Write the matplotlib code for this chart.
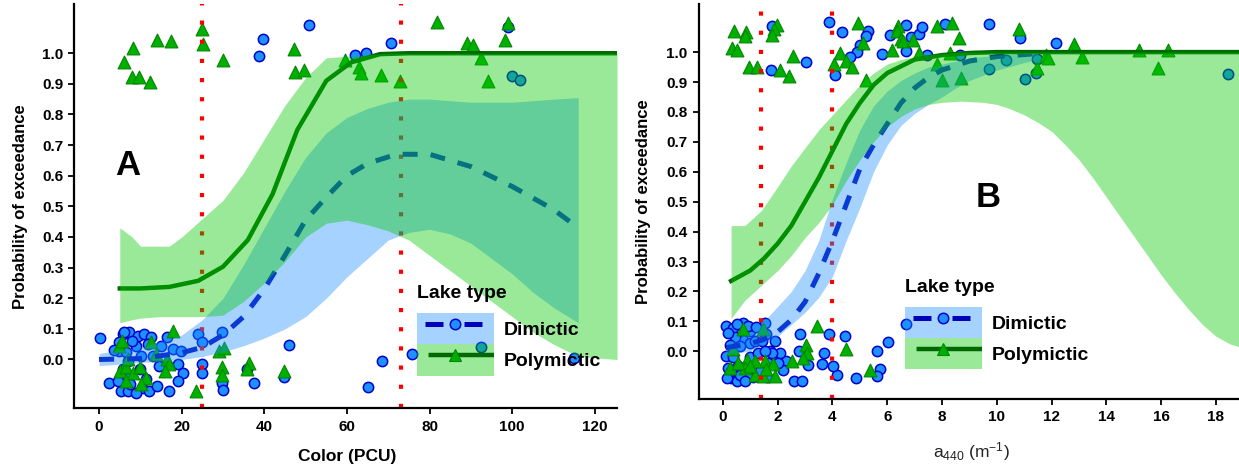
import matplotlib
matplotlib.use("Agg")
import matplotlib.pyplot as plt
from matplotlib.patches import Patch
from matplotlib.lines import Line2D

plt.rcParams["font.family"] = ["Liberation Sans", "DejaVu Sans"]
plt.rcParams["mathtext.fontset"] = "custom"
plt.rcParams["mathtext.rm"] = "Liberation Sans"
plt.rcParams["mathtext.default"] = "regular"

# ---------------- Panel A : Color (PCU) ----------------
a_thresholds = [25, 73]

a_dim_x = [39.8, 38.6, 50.9, 99.0, 70.6, 61.9, 64.5, 100.0, 102.0,
           0.3, 2.5, 5.7, 7.3, 9.3, 10.9, 12.5, 4.9, 4.9, 6.5, 6.9, 5.7, 6.9, 5.3, 6.9,
           10.5, 12.1, 14.1, 16.9, 15.1, 18.0, 19.9, 19.0, 20.2, 19.0, 16.5, 23.9, 25.0,
           25.0, 25.0, 29.8, 29.8, 30.0, 37.4, 35.8, 44.7, 45.9, 10.1, 8.9, 11.3, 8.9,
           65.0, 68.6, 75.8, 92.4, 115.0, 6.0, 8.0, 13.0, 7.5, 9.8, 11.8, 14.5, 4.5, 3.5]
a_dim_y = [1.048, 0.990, 1.093, 1.087, 1.032, 0.993, 1.002, 0.925, 0.914,
           0.069, -0.076, 0.083, 0.091, 0.078, 0.083, 0.072, 0.056, 0.029, 0.023, -0.004,
           -0.032, -0.059, -0.103, -0.103, -0.092, -0.103, -0.087, -0.103, 0.045, 0.034,
           0.029, -0.015, -0.043, -0.070, 0.072, 0.083, 0.058, -0.015, -0.045, 0.089,
           -0.076, -0.098, -0.076, -0.032, -0.056, 0.048, 0.012, 0.045, -0.065, -0.109,
           -0.089, -0.004, 0.018, 0.041, 0.005, 0.090, 0.060, 0.010, -0.080, -0.030,
           0.050, -0.020, -0.070, 0.030]

a_poly_x = [8.1, 6.1, 8.0, 9.7, 12.4, 14.1, 17.5, 25.0, 25.1, 29.9, 47.2, 47.5, 49.7,
            81.8, 99.1, 98.3, 89.1, 90.6, 92.5, 94.1, 59.5, 63.0, 63.4, 68.2, 72.8,
            17.8, 12.5, 13.7, 16.5, 17.0, 15.9, 4.9, 5.1, 6.5, 8.1, 10.0, 11.3, 10.1,
            6.5, 23.4, 29.8, 29.8, 29.0, 30.2, 36.2, 35.7, 44.7, 5.5, 7.0]
a_poly_y = [1.017, 0.970, 0.924, 0.922, 0.906, 1.043, 1.039, 1.079, 1.030, 0.977,
            1.013, 0.938, 0.944, 1.101, 1.098, 1.043, 1.032, 1.026, 0.983, 0.908,
            0.977, 0.955, 0.935, 0.928, 0.908,
            0.094, 0.056, 0.017, 0.001, -0.015, -0.037, 0.045, -0.037, -0.026, -0.043,
            -0.026, -0.059, -0.081, -0.070, -0.103, -0.026, -0.052, 0.029, 0.039,
            -0.010, -0.032, -0.037, 0.060, 0.000]

a_dim_fit_x = [0, 10, 20, 25, 30, 35, 40, 45, 50, 55, 60, 65, 72, 80, 90, 100, 110, 116]
a_dim_fit_y = [0.0, 0.003, 0.022, 0.04, 0.08, 0.14, 0.23, 0.34, 0.455, 0.53, 0.60,
               0.64, 0.67, 0.67, 0.63, 0.565, 0.49, 0.43]

a_dim_band_x = [0, 5, 10, 15, 20, 25, 30, 35, 40, 45, 50, 55, 60, 65, 70, 75, 80, 85,
                90, 95, 100, 105, 110, 116]
a_dim_lo = [-0.02, -0.015, -0.01, -0.005, 0.0, 0.01, 0.025, 0.045, 0.07, 0.1, 0.14,
            0.2, 0.27, 0.33, 0.39, 0.415, 0.425, 0.41, 0.38, 0.33, 0.28, 0.22, 0.17, 0.12]
a_dim_hi = [0.02, 0.03, 0.04, 0.06, 0.08, 0.13, 0.2, 0.31, 0.43, 0.55, 0.66, 0.74,
            0.79, 0.82, 0.84, 0.85, 0.85, 0.845, 0.84, 0.84, 0.84, 0.845, 0.85, 0.855]

a_poly_fit_x = [5, 10, 17, 24, 30, 36, 42, 48, 55, 61, 68, 75, 125.4]
a_poly_fit_y = [0.232, 0.232, 0.237, 0.257, 0.303, 0.39, 0.54, 0.75, 0.91, 0.97,
                0.997, 1.0, 1.0]

a_poly_band_x = [5, 8, 10, 15, 17, 20, 25, 30, 35, 40, 45, 50, 55, 60, 65, 70, 75, 80,
                 85, 90, 95, 100, 105, 110, 116, 125.4]
a_poly_lo = [0.12, 0.13, 0.135, 0.14, 0.14, 0.14, 0.14, 0.145, 0.19, 0.25, 0.32, 0.40,
             0.445, 0.455, 0.44, 0.42, 0.39, 0.34, 0.29, 0.24, 0.19, 0.14, 0.09, 0.05,
             0.01, 0.0]
a_poly_hi = [0.43, 0.40, 0.37, 0.37, 0.37, 0.40, 0.46, 0.52, 0.61, 0.72, 0.83, 0.92,
             0.985, 0.99, 0.995, 1.0, 1.0, 1.0, 1.0, 1.0, 1.0, 1.0, 1.0, 1.0, 1.0, 1.0]

# ---------------- Panel B : a440 ----------------
b_thresholds = [1.4, 4.0]

b_dim_x = [1.78, 1.74, 3.03, 3.88, 4.33, 4.09, 5.30, 5.21, 5.00, 4.88, 4.64, 5.81, 6.09,
           6.70, 6.68, 6.85, 7.16, 7.27, 7.46, 8.10, 9.72, 10.84, 12.15, 10.35, 9.72,
           11.02, 11.42, 11.47, 18.44, 8.65,
           6.70, 6.01, 5.63, 5.73, 5.61, 4.86, 4.17, 4.03, 4.45, 3.88, 3.70, 3.60, 3.11,
           2.81, 2.79, 2.59, 2.87, 2.30, 2.20, 2.08, 1.90, 1.53, 0.13, 0.38, 0.74, 0.99,
           0.13, 0.19, 0.30, 0.50, 0.56, 0.74, 0.99, 1.17, 1.41, 1.72, 1.80, 2.02, 1.65,
           1.35, 1.11, 0.87, 0.62, 0.38, 0.62, 0.44, 0.26, 0.99, 1.29, 1.53, 1.59, 0.20,
           0.50, 0.90, 1.20, 0.30, 0.80, 1.60, 0.15]
b_dim_y = [1.086, 0.941, 0.968, 1.099, 1.068, 0.922, 1.071, 1.055, 1.025, 0.999, 0.984,
           0.994, 1.057, 1.089, 1.002, 1.052, 1.061, 1.084, 0.991, 1.095, 1.094, 1.047,
           1.030, 0.975, 0.945, 0.910, 0.930, 0.978, 0.927, 0.991,
           0.091, 0.030, 0.002, -0.059, -0.083, -0.090, -0.081, -0.050, 0.052, 0.056,
           -0.005, -0.041, -0.046, 0.058, 0.002, -0.098, -0.098, -0.033, -0.063, -0.005,
           0.033, 0.093, 0.084, 0.077, 0.093, 0.067, -0.017, -0.056, -0.090, -0.100,
           -0.050, 0.039, 0.028, 0.033, 0.033, 0.000, -0.005, -0.039, -0.039, -0.067,
           -0.086, -0.080, -0.080, -0.020, 0.017, 0.048, 0.020, -0.020, -0.005, 0.000,
           0.058, 0.060, 0.090, 0.085, 0.080, -0.065, -0.100, -0.085, -0.090]

b_poly_x = [0.41, 0.86, 0.80, 0.32, 0.50, 0.96, 1.23, 2.08, 2.42, 2.57, 1.96, 1.86, 1.81,
            4.94, 4.27, 4.05, 4.49, 4.73, 5.10, 5.22, 6.18, 6.40, 6.34, 6.50, 6.58, 6.95,
            7.16, 7.80, 8.38, 8.62, 7.82, 8.00, 8.69, 8.28, 10.82, 12.82, 11.79, 11.85,
            13.11, 15.18, 16.25, 15.89, 11.45,
            3.44, 4.51, 3.05, 3.08, 2.93, 2.54, 5.36, 1.47, 0.72, 1.53, 1.84, 1.17, 0.87,
            0.80, 1.17, 1.47, 1.90, 0.26, 0.38, 0.99, 1.59, 0.56]
b_poly_y = [1.071, 1.066, 1.055, 1.014, 1.006, 0.949, 0.949, 0.939, 0.921, 0.988, 1.092,
            1.077, 1.058, 1.097, 0.997, 0.960, 0.971, 0.949, 1.030, 0.908, 1.006, 1.088,
            1.069, 1.044, 1.036, 1.041, 0.997, 1.086, 1.097, 1.047, 0.961, 0.908, 0.913,
            0.997, 1.078, 1.028, 0.991, 0.980, 0.982, 1.008, 1.008, 0.947, 0.947,
            0.084, 0.006, 0.022, -0.005, -0.022, -0.033, -0.063, 0.073, 0.073, -0.033,
            -0.044, -0.033, -0.028, -0.056, -0.078, -0.083, -0.083, -0.056, 0.006,
            -0.050, -0.060, -0.039]

b_dim_fit_x = [0.1, 1, 1.5, 2, 2.5, 3, 3.5, 4, 4.5, 5, 5.5, 6, 6.5, 7, 7.5, 8, 9, 10, 11.5]
b_dim_fit_y = [0.012, 0.025, 0.04, 0.065, 0.105, 0.165, 0.26, 0.37, 0.49, 0.61, 0.69,
               0.76, 0.83, 0.88, 0.915, 0.94, 0.97, 0.985, 0.995]

b_dim_band_x = [0.1, 0.5, 1, 1.5, 2, 2.5, 3, 3.5, 4, 4.5, 5, 5.5, 6, 6.5, 7, 7.5, 8,
                8.5, 9, 10, 11, 11.5]
b_dim_lo = [-0.01, -0.005, 0.0, 0.03, 0.05, 0.09, 0.13, 0.18, 0.25, 0.37, 0.48, 0.6,
            0.69, 0.755, 0.795, 0.825, 0.85, 0.88, 0.905, 0.94, 0.965, 0.975]
b_dim_hi = [0.03, 0.04, 0.06, 0.1, 0.15, 0.2, 0.27, 0.37, 0.51, 0.63, 0.74, 0.82, 0.87,
            0.905, 0.93, 0.95, 0.96, 0.97, 0.98, 0.99, 0.995, 0.998]

b_poly_fit_x = [0.3, 1, 1.5, 2, 2.5, 3, 3.5, 4, 4.5, 5, 5.5, 6, 7, 8, 9, 10, 18.84]
b_poly_fit_y = [0.235, 0.27, 0.31, 0.36, 0.42, 0.50, 0.58, 0.67, 0.76, 0.83, 0.89,
                0.93, 0.975, 0.99, 0.997, 1.0, 1.0]

b_poly_band_x = [0.3, 0.8, 1.4, 2, 2.5, 3, 3.5, 4, 4.5, 5, 5.5, 6, 6.5, 7, 7.5, 8, 8.7,
                 9.5, 10, 10.5, 11, 11.5, 12, 12.5, 13, 13.5, 14, 14.5, 15, 15.5, 16,
                 16.5, 17, 17.5, 18, 18.5, 18.84]
b_poly_lo = [0.11, 0.17, 0.22, 0.27, 0.32, 0.38, 0.43, 0.49, 0.57, 0.64, 0.70, 0.75,
             0.785, 0.81, 0.825, 0.832, 0.836, 0.832, 0.825, 0.81, 0.79, 0.765, 0.735,
             0.69, 0.64, 0.58, 0.515, 0.45, 0.385, 0.32, 0.255, 0.195, 0.14, 0.09,
             0.05, 0.025, 0.015]
b_poly_hi = [0.42, 0.42, 0.47, 0.55, 0.62, 0.68, 0.74, 0.79, 0.84, 0.89, 0.93, 0.96,
             0.975, 0.985, 0.99, 0.995] + [1.0] * 21

# styles
DIM_FACE, DIM_EDGE = "#1E90FF", "#0000CD"
POLY_FACE, POLY_EDGE = "#00B000", "#008800"
DIM_LINE, POLY_LINE = "#0000B8", "#006A00"
DIM_FILL, POLY_FILL = "#1E90FF", "#00C800"
ALPHA = 0.4

fig = plt.figure(figsize=(12.39, 4.69), dpi=100)
axA = fig.add_axes([0.060, 0.129, 0.438, 0.862])
axB = fig.add_axes([0.564, 0.149, 0.436, 0.842])


def draw_panel(ax, dim_x, dim_y, poly_x, poly_y, thresholds,
               dfx, dfy, dbx, dlo, dhi, pfx, pfy, pbx, plo, phi):
    ax.scatter(dim_x, dim_y, s=55, c=DIM_FACE, edgecolors=DIM_EDGE, linewidths=1.1,
               zorder=1)
    ax.scatter(poly_x, poly_y, s=85, marker="^", c=POLY_FACE, edgecolors=POLY_EDGE,
               linewidths=0.8, zorder=1.1)
    for t in thresholds:
        ax.axvline(t, color="red", lw=3, ls=(0, (1, 3.6)), dash_capstyle="butt",
                   zorder=1.5)
    ax.plot(dfx, dfy, color=DIM_LINE, lw=3.6, ls=(0, (3.0, 2.6)),
            dash_capstyle="butt", zorder=2)
    ax.plot(pfx, pfy, color=POLY_LINE, lw=3.2, zorder=2)
    ax.fill_between(dbx, dlo, dhi, color=DIM_FILL, alpha=ALPHA, lw=0, zorder=3)
    ax.fill_between(pbx, plo, phi, color=POLY_FILL, alpha=ALPHA, lw=0, zorder=3)

    ax.set_ylim(-0.16, 1.16)
    ax.set_yticks([i / 10 for i in range(11)])
    ax.set_yticklabels([f"{i / 10:.1f}" for i in range(11)])
    for side in ["top", "right"]:
        ax.spines[side].set_visible(False)
    for side in ["left", "bottom"]:
        ax.spines[side].set_linewidth(1.6)
    ax.tick_params(direction="out", length=4, width=1.3, pad=4, labelsize=11)
    ax.set_ylabel("Probability of exceedance", fontsize=12, fontweight="bold")

    handles = [
        (Patch(facecolor=DIM_FILL, alpha=ALPHA, lw=0),
         Line2D([], [], color=DIM_LINE, lw=3.6, ls=(13.8, (3.6, 4.2, 3.6, 4.0)),
                dash_capstyle="butt", marker="o", ms=7.5, mfc=DIM_FACE, mec=DIM_EDGE,
                mew=1.1)),
        (Patch(facecolor=POLY_FILL, alpha=ALPHA, lw=0),
         Line2D([], [], color=POLY_LINE, lw=3.2, ls=(18.8, (17.0, 4.4)),
                dash_capstyle="butt", marker="^", ms=9, mfc=POLY_FACE, mec=POLY_EDGE,
                mew=0.8)),
    ]
    return handles


hA = draw_panel(axA, a_dim_x, a_dim_y, a_poly_x, a_poly_y, a_thresholds,
                a_dim_fit_x, a_dim_fit_y, a_dim_band_x, a_dim_lo, a_dim_hi,
                a_poly_fit_x, a_poly_fit_y, a_poly_band_x, a_poly_lo, a_poly_hi)
hB = draw_panel(axB, b_dim_x, b_dim_y, b_poly_x, b_poly_y, b_thresholds,
                b_dim_fit_x, b_dim_fit_y, b_dim_band_x, b_dim_lo, b_dim_hi,
                b_poly_fit_x, b_poly_fit_y, b_poly_band_x, b_poly_lo, b_poly_hi)

axA.set_xlim(-6.0, 125.4)
axA.set_xticks([0, 20, 40, 60, 80, 100, 120])
axA.set_xlabel("Color (PCU)", fontsize=12.5, fontweight="bold")
axA.xaxis.set_label_coords(0.502, -0.1)
axA.yaxis.set_label_coords(-0.085, 0.5)
axA.text(6.8, 0.632, "A", fontsize=25, fontweight="bold", ha="center", va="center")

axB.set_xlim(-0.88, 18.84)
axB.set_xticks(list(range(0, 20, 2)))
axB.set_xlabel("a$_{440}$ (m$^{-1}$)", fontsize=12.5, color="#222222")
axB.xaxis.set_label_coords(0.505, -0.105)
axB.yaxis.set_label_coords(-0.089, 0.5)
axB.text(9.67, 0.513, "B", fontsize=25, fontweight="bold", ha="center", va="center")

for ax, h, anchor in [(axA, hA, (0.631, 0.306)), (axB, hB, (0.381, 0.305))]:
    for lab in ax.get_xticklabels() + ax.get_yticklabels():
        lab.set_fontweight("bold")
    leg = ax.legend(h, ["Dimictic", "Polymictic"], title="Lake type",
                    loc="upper left", bbox_to_anchor=anchor, frameon=False,
                    prop={"size": 14, "weight": "bold"},
                    title_fontproperties={"size": 14, "weight": "bold"},
                    handlelength=3.97, handleheight=2.1, labelspacing=0,
                    handletextpad=0.5, borderpad=0, borderaxespad=0)
    leg._legend_box.align = "left"
    leg._legend_box.sep = 8

fig.savefig("out.png", dpi=100)
